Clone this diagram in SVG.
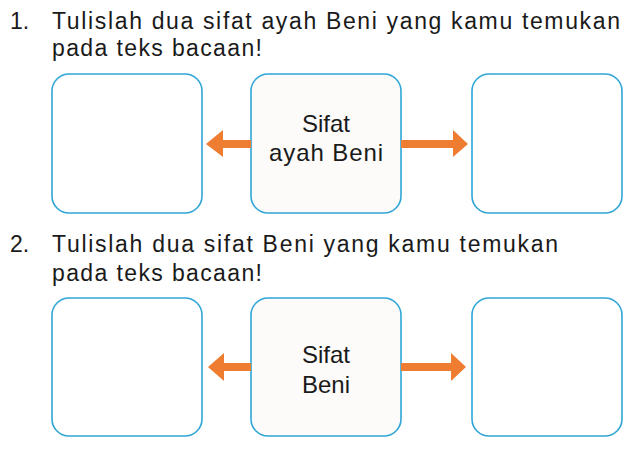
<svg xmlns="http://www.w3.org/2000/svg" width="640" height="452" viewBox="0 0 640 452">
<defs>
<style>
.q{font-family:"Liberation Sans","Noto Sans",sans-serif;font-size:23px;fill:#1a1a1a}
.c{font-family:"Liberation Sans","Noto Sans",sans-serif;font-size:24px;fill:#1a1a1a;text-anchor:middle}
.box{fill:#ffffff;stroke:#2fa6d6;stroke-width:1.6}
.mid{fill:#fcfbfa;stroke:#2fa6d6;stroke-width:1.6}
.arr{fill:#ee7d31}
</style>
</defs>
<rect width="640" height="452" fill="#ffffff"/>
<g id="question1">
<text class="q"><tspan x="10" y="29">1.</tspan><tspan x="52" y="29" textLength="568" lengthAdjust="spacing">Tulislah dua sifat ayah Beni yang kamu temukan</tspan><tspan x="52" y="56" textLength="210" lengthAdjust="spacing">pada teks bacaan!</tspan></text>
</g>
<g id="question2">
<text class="q"><tspan x="10" y="252">2.</tspan><tspan x="52" y="252" textLength="506" lengthAdjust="spacing">Tulislah dua sifat Beni yang kamu temukan</tspan><tspan x="52" y="281" textLength="210" lengthAdjust="spacing">pada teks bacaan!</tspan></text>
</g>
<g id="box1-left"><rect class="box" x="52" y="74" width="150" height="139" rx="17"/></g>
<g id="box1-center"><rect class="mid" x="251" y="74" width="150" height="139" rx="17"/>
<text class="c"><tspan x="326" y="132">Sifat</tspan><tspan x="326" y="161" textLength="114" lengthAdjust="spacing">ayah Beni</tspan></text></g>
<g id="box1-right"><rect class="box" x="472" y="74" width="150" height="139" rx="17"/></g>
<g id="box2-left"><rect class="box" x="52" y="298" width="150" height="138" rx="17"/></g>
<g id="box2-center"><rect class="mid" x="251" y="298" width="150" height="138" rx="17"/>
<text class="c"><tspan x="326" y="363">Sifat</tspan><tspan x="326" y="393">Beni</tspan></text></g>
<g id="box2-right"><rect class="box" x="472" y="298" width="150" height="138" rx="17"/></g>
<g id="connectors">
<polygon class="arr" points="251,140 223,140 223,130 206,144 223,157 223,148 251,148"/>
<polygon class="arr" points="401,140 453,140 453,130 468,144 453,157 453,148 401,148"/>
<polygon class="arr" points="251,363 224,363 224,353 208,367 224,381 224,371 251,371"/>
<polygon class="arr" points="401,363 451,363 451,353 466,367 451,381 451,371 401,371"/>
</g>
</svg>
